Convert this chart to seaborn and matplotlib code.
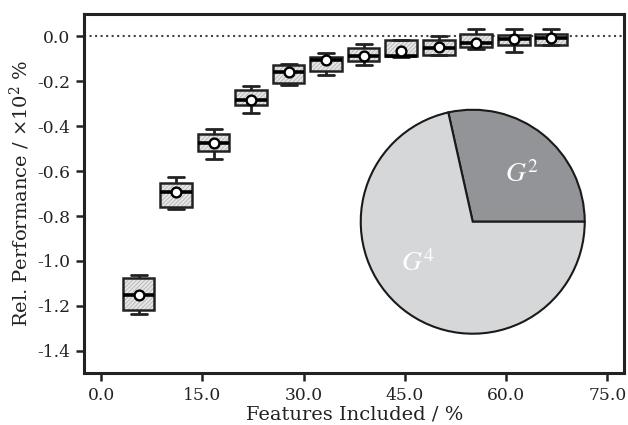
import numpy as np
import pandas as pd
import matplotlib
matplotlib.use("Agg")
from matplotlib import pyplot as plt
import seaborn as sns

# feature share (%) for each box
features = [5.56, 11.11, 16.67, 22.22, 27.78, 33.33, 38.89, 44.44, 50.00, 55.56, 61.11, 66.67]
# five-number summaries (x10^2 %)
whisk_lo = [-1.235, -0.767, -0.544, -0.340, -0.218, -0.170, -0.125, -0.090, -0.082, -0.058, -0.068, -0.040]
q1 = [-1.218, -0.761, -0.510, -0.307, -0.208, -0.155, -0.108, -0.089, -0.081, -0.048, -0.037, -0.037]
median = [-1.153, -0.694, -0.473, -0.285, -0.160, -0.106, -0.086, -0.088, -0.050, -0.030, -0.013, -0.008]
q3 = [-1.077, -0.654, -0.433, -0.239, -0.128, -0.093, -0.052, -0.015, -0.015, 0.012, 0.008, 0.012]
whisk_hi = [-1.062, -0.628, -0.411, -0.222, -0.123, -0.075, -0.032, -0.014, 0.003, 0.034, 0.034, 0.034]
means = [-1.153, -0.694, -0.473, -0.285, -0.158, -0.106, -0.086, -0.066, -0.047, -0.030, -0.013, -0.007]

# share of the two groups in the pie
groups = ["$G^2$", "$G^4$"]
shares = [0.285, 0.715]

rows = []
for i, x in enumerate(features):
    for v in (whisk_lo[i], q1[i], median[i], q3[i], whisk_hi[i]):
        rows.append({"x": x, "y": v})
df = pd.DataFrame(rows)

sns.set_style("ticks")
plt.rcParams["font.family"] = ["DejaVu Serif"]
plt.rcParams["mathtext.fontset"] = "dejavuserif"
plt.rcParams["hatch.linewidth"] = 0.8

dark = "#222222"
fig = plt.figure(figsize=(6.28, 4.25), dpi=100)
ax = fig.add_axes([0.134, 0.122, 0.860, 0.845])

ax.axhline(0, color="#444444", ls=":", lw=1.5, zorder=0)

sns.boxplot(data=df, x="x", y="y", native_scale=True, width=0.85,
            color="#e8e8e8", saturation=1, linecolor=dark, linewidth=1.8,
            whis=10, ax=ax,
            boxprops=dict(hatch="////////"),
            medianprops=dict(color="black", linewidth=2.6),
            whiskerprops=dict(linewidth=2.0),
            capprops=dict(linewidth=2.0))

for p in ax.patches:
    if hasattr(p, "set_hatchcolor"):
        p.set_hatchcolor("#bcbcbc")
    else:
        p._hatch_color = matplotlib.colors.to_rgba("#bcbcbc")

sns.scatterplot(x=features, y=means, marker="o", s=50, color="white",
                edgecolor="black", linewidth=1.7, zorder=5, ax=ax)

ax.set_xlim(-2.5, 77.5)
ax.set_ylim(-1.5, 0.1)
ax.set_xticks([0, 15, 30, 45, 60, 75])
ax.set_xticklabels([f"{t:.1f}" for t in [0, 15, 30, 45, 60, 75]])
yt = [0.0, -0.2, -0.4, -0.6, -0.8, -1.0, -1.2, -1.4]
ax.set_yticks(yt)
ax.set_yticklabels([f"{t:.1f}" for t in yt])
ax.tick_params(labelsize=12.3, length=6, width=1.8, color=dark, labelcolor="#222222", pad=4)
for s in ax.spines.values():
    s.set_linewidth(2.2)
    s.set_color(dark)
ax.set_xlabel("Features Included / %", fontsize=14, color="#222222", labelpad=1)
ax.set_ylabel(r"Rel. Performance / $\times10^2$ %", fontsize=14, color="#222222", labelpad=4)

# pie inset
pax = fig.add_axes([0.5744, 0.2148, 0.3567, 0.527])
pax.pie(shares, startangle=0, counterclock=True,
        colors=["#939497", "#d6d7d9"],
        wedgeprops=dict(edgecolor="#1a1a1a", linewidth=1.5))
pax.set_xlim(-1.0, 1.0)
pax.set_ylim(-1.0, 1.0)
pax.set_aspect("equal")
pax.text(0.44, 0.42, groups[0], color="white", fontsize=20, ha="center", va="center",
         math_fontfamily="stix")
pax.text(-0.49, -0.37, groups[1], color="white", fontsize=20, ha="center", va="center",
         math_fontfamily="stix")

fig.savefig("out.png", dpi=100)
